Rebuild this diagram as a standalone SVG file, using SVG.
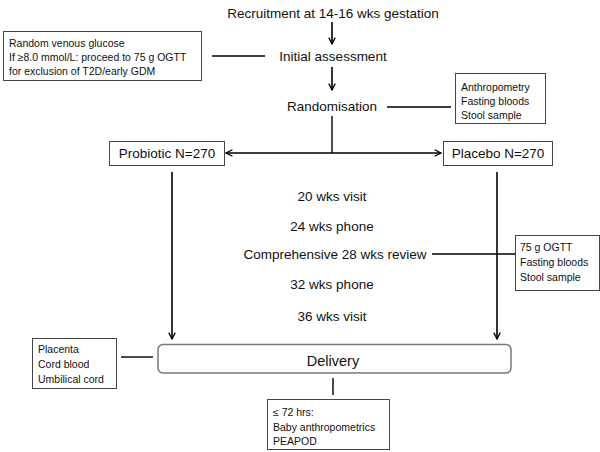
<svg xmlns="http://www.w3.org/2000/svg" width="600" height="452" viewBox="0 0 600 452">
<defs>
<marker id="ah" viewBox="0 0 10 10" refX="9" refY="5" markerWidth="8" markerHeight="8" markerUnits="userSpaceOnUse" orient="auto-start-reverse">
<path d="M1,1 L9,5 L1,9" fill="none" stroke="#000" stroke-width="1.6"/>
</marker>
<style>
text{font-family:"Liberation Sans",Arial,sans-serif;fill:#111}
.m{font-size:13.5px;text-anchor:middle}
.s{font-size:10.5px}
.box{fill:#fff;stroke:#444;stroke-width:1}
.ln{stroke:#000;stroke-width:1.4;fill:none}
.ar{stroke:#000;stroke-width:1.6;fill:none;marker-end:url(#ah)}
</style>
</defs>
<rect width="600" height="452" fill="#fff"/>
<g id="connectors">
<line class="ar" x1="332" y1="22" x2="332" y2="44"/>
<line class="ar" x1="332" y1="67" x2="332" y2="90"/>
<line class="ln" x1="212" y1="56" x2="265" y2="56"/>
<line class="ln" x1="387" y1="107" x2="451" y2="107"/>
<line class="ln" x1="332" y1="116" x2="332" y2="153"/>
<line class="ar" x1="332" y1="153" x2="226" y2="153"/>
<line class="ar" x1="332" y1="153" x2="441" y2="153"/>
<line class="ar" x1="172" y1="172" x2="172" y2="339"/>
<line class="ar" x1="497" y1="172" x2="497" y2="339"/>
<line class="ln" x1="432" y1="254" x2="515" y2="254"/>
<line class="ln" x1="121" y1="357" x2="153" y2="357"/>
<line class="ln" x1="333" y1="378" x2="333" y2="395"/>
</g>
<g id="recruitment"><text class="m" x="333" y="18">Recruitment at 14-16 wks gestation</text></g>
<g id="initial"><text class="m" x="333" y="61">Initial assessment</text></g>
<g id="glucose">
<rect class="box" x="3.5" y="31.5" width="198" height="49"/>
<text class="s" x="9" y="47">Random venous glucose</text>
<text class="s" x="9" y="61">If ≥8.0 mmol/L: proceed to 75 g OGTT</text>
<text class="s" x="9" y="75">for exclusion of T2D/early GDM</text>
</g>
<g id="randomisation"><text class="m" x="332" y="111">Randomisation</text></g>
<g id="baseline">
<rect class="box" x="455.5" y="73.5" width="90" height="50"/>
<text class="s" x="461" y="91">Anthropometry</text>
<text class="s" x="461" y="105">Fasting bloods</text>
<text class="s" x="461" y="119">Stool sample</text>
</g>
<g id="probiotic">
<rect class="box" x="109.5" y="141.5" width="115" height="24"/>
<text class="m" x="167" y="158">Probiotic N=270</text>
</g>
<g id="placebo">
<rect class="box" x="443.5" y="141.5" width="109" height="24"/>
<text class="m" x="498" y="158">Placebo N=270</text>
</g>
<g id="v20"><text class="m" x="332" y="201">20 wks visit</text></g>
<g id="p24"><text class="m" x="332" y="231">24 wks phone</text></g>
<g id="r28"><text class="m" x="335" y="259">Comprehensive 28 wks review</text></g>
<g id="ogtt">
<rect class="box" x="515.5" y="235.5" width="84" height="55"/>
<text class="s" x="520" y="251">75 g OGTT</text>
<text class="s" x="520" y="266">Fasting bloods</text>
<text class="s" x="520" y="281">Stool sample</text>
</g>
<g id="p32"><text class="m" x="332" y="289">32 wks phone</text></g>
<g id="v36"><text class="m" x="332" y="321">36 wks visit</text></g>
<g id="delivery">
<rect x="158" y="344.5" width="353" height="28.5" rx="5" fill="#fff" stroke="#777" stroke-width="1.5"/>
<text class="m" x="333" y="366" style="font-size:14.5px">Delivery</text>
</g>
<g id="placenta">
<rect class="box" x="32.5" y="338.5" width="84" height="50"/>
<text class="s" x="38" y="353">Placenta</text>
<text class="s" x="38" y="368">Cord blood</text>
<text class="s" x="38" y="383">Umbilical cord</text>
</g>
<g id="baby">
<rect class="box" x="267.5" y="399.5" width="122" height="50"/>
<text class="s" x="273" y="416">≤ 72 hrs:</text>
<text class="s" x="273" y="431">Baby anthropometrics</text>
<text class="s" x="273" y="445">PEAPOD</text>
</g>
</svg>
